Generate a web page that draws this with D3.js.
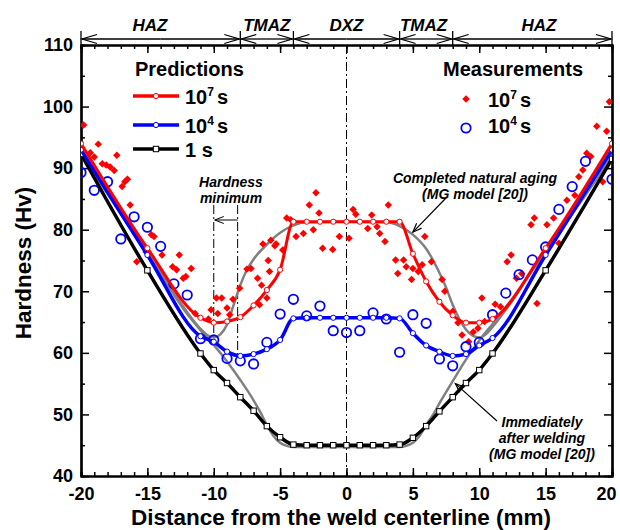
<!DOCTYPE html>
<html>
<head>
<meta charset="utf-8">
<script src="https://cdn.jsdelivr.net/npm/d3@7"></script>
<style>
  body { margin: 0; background: #fff; }
  text { font-family: "Liberation Sans", Arial, Helvetica, sans-serif; font-weight: bold; fill: #000; }
  .tick text { font-size: 18px; }
  .note { font-style: italic; font-size: 14px; }
</style>
</head>
<body>
<svg id="chart" width="620" height="530"></svg>
<script>
// ---- data ----
const zoneEdges = [-20, -8, -4, 4, 8, 20];
const zoneLabels = ['HAZ', 'TMAZ', 'DXZ', 'TMAZ', 'HAZ'];
const zoneLabelX = [-14.8, -6, 0, 5.8, 14.5];

// model predictions (marker positions)
const predX = [-20, -15, -11, -10, -9, -8, -7, -6, -5, -4, -3, -2, -1, 0, 1, 2, 3, 4, 5, 6, 7, 8, 9, 10, 11, 15, 20];
const pred1e7 = [94.0, 77.0, 65.7, 64.9, 65.1, 65.8, 67.7, 70.2, 73.5, 81.3, 81.3, 81.3, 81.3, 81.3, 81.3, 81.3, 81.3, 81.3, 76.1, 71.6, 68.3, 66.1, 64.9, 64.9, 65.5, 77.0, 94.0];
const pred1e4 = [93.0, 75.9, 62.7, 61.8, 60.2, 59.5, 59.8, 60.6, 62.1, 65.6, 65.7, 65.7, 65.7, 65.7, 65.7, 65.7, 65.7, 65.6, 63.2, 61.2, 60.2, 59.5, 59.8, 61.2, 62.4, 75.9, 93.0];
const pred1s = [92.3, 73.4, 59.9, 57.2, 55.1, 52.8, 50.6, 48.1, 46.3, 45.1, 45.0, 45.0, 45.0, 45.0, 45.0, 45.0, 45.0, 45.1, 46.2, 48.1, 50.5, 52.8, 55.1, 57.2, 59.9, 73.4, 91.5];

// MG model, completed natural aging (grey)
const mgAgedX = [-20, -18, -16, -14, -12, -11, -10.5, -10, -9.5, -9, -8.5, -8, -7.5, -7, -6, -5, -4, -3, 0, 3, 4, 5, 6, 7, 7.5, 8, 8.5, 9, 9.5, 10, 10.5, 11, 12, 14, 16, 18, 20];
const mgAgedH = [92.4, 86.0, 79.6, 73.2, 66.6, 63.9, 62.9, 62.5, 63.0, 64.6, 67.8, 71.0, 73.5, 75.2, 77.6, 79.5, 80.7, 81.2, 81.3, 81.2, 80.6, 79.2, 76.9, 73.0, 70.6, 67.8, 65.5, 63.8, 62.8, 62.5, 63.0, 64.2, 67.0, 73.4, 79.7, 86.0, 92.2];

// MG model, immediately after welding (grey)
const mgWeldX = [-20, -18, -16, -14, -12, -11, -10, -9, -8, -7, -6.5, -6, -5.5, -5, -4.5, -4, 0, 4, 4.5, 5, 5.5, 6, 6.5, 7, 8, 9, 10, 11, 12, 14, 16, 18, 20];
const mgWeldH = [92.2, 85.8, 79.3, 72.8, 66.3, 63.7, 61.3, 58.6, 55.6, 52.3, 50.4, 48.3, 46.5, 45.4, 44.9, 44.7, 44.7, 44.7, 44.9, 45.4, 46.5, 48.3, 49.9, 51.8, 55.4, 58.9, 62.0, 64.7, 67.4, 73.4, 79.5, 85.6, 91.9];

// measurements after 10^7 s (red diamonds)
const meas1e7X = [-19.8, -19.3, -19.0, -18.7, -18.4, -18.1, -17.8, -17.5, -17.3, -16.9, -16.7, -16.5, -16.3, -15.8, -15.1, -14.7, -14.5, -13.9, -13.1, -12.8, -12.6, -12.3, -12.1, -11.7, -11.4, -10.4, -10.2, -9.8, -9.7, -9.4, -9.0, -8.8, -8.55, -8.05, -7.5, -7.2, -6.7, -6.55, -6.4, -6.3, -6.0, -5.9, -5.8, -5.7, -5.4, -5.3, -4.8, -4.5, -4.2, -3.8, -3.25, -2.8, -2.5, -2.3, -2.07, -1.8, -1.04, -0.54, 0.19, 0.5, 0.7, 1.6, 1.9, 2.3, 2.5, 2.9, 3.15, 3.7, 3.86, 4.3, 4.5, 4.9, 5.0, 5.4, 5.7, 5.9, 6.4, 7.2, 7.4, 8.0, 8.4, 8.7, 9.2, 9.55, 9.9, 10.2, 10.4, 11.2, 11.6, 12.1, 12.4, 12.8, 13.2, 13.9, 14.15, 14.35, 15.1, 15.6, 16.0, 16.6, 17.2, 17.5, 17.8, 18.1, 18.4, 18.85, 19.3, 19.6, 19.8];
const meas1e7H = [97.0, 92.5, 91.8, 93.9, 90.7, 90.5, 90.2, 89.6, 92.1, 87.0, 87.8, 88.2, 84.0, 74.8, 76.4, 79.2, 78.9, 75.9, 74.0, 73.5, 75.9, 72.1, 72.4, 73.7, 66.4, 65.5, 67.0, 68.9, 66.4, 68.9, 67.3, 66.2, 68.7, 70.5, 73.6, 73.7, 72.1, 67.8, 71.0, 77.7, 68.9, 75.0, 73.2, 78.3, 77.4, 77.7, 76.7, 81.9, 81.6, 78.9, 79.4, 84.0, 80.0, 86.0, 82.7, 77.0, 76.8, 78.9, 78.6, 83.3, 82.5, 80.2, 82.4, 80.5, 79.4, 78.1, 84.0, 75.1, 72.9, 75.1, 74.0, 71.9, 73.7, 73.2, 74.3, 78.9, 74.8, 71.9, 70.0, 66.7, 64.9, 62.9, 61.8, 63.4, 64.0, 68.9, 65.1, 67.9, 67.5, 74.8, 75.9, 72.1, 72.9, 80.8, 81.9, 68.0, 80.8, 81.9, 77.8, 84.8, 85.6, 88.6, 89.7, 92.4, 91.9, 96.8, 87.8, 96.0, 100.8];

// measurements after 10^4 s (blue circles)
const meas1e4X = [-20, -19, -18, -17, -16, -15, -14, -13, -12, -11, -10, -9, -8, -7, -6, -5, -4, -3, -2, -1, 0, 1, 2, 3, 4, 5, 6, 7, 8, 9, 10, 11, 12, 13, 14, 15, 16, 17, 18, 20];
const meas1e4H = [89.3, 86.4, 87.8, 78.5, 82.1, 80.4, 77.3, 71.2, 69.4, 62.3, 62.1, 59.1, 58.7, 58.2, 61.7, 66.3, 68.7, 66.0, 67.6, 63.6, 63.3, 63.6, 66.5, 65.5, 60.1, 66.2, 64.8, 59.0, 57.9, 61.0, 61.7, 66.2, 69.7, 72.7, 75.1, 77.2, 83.3, 87.0, 91.1, 88.2];

const xTicks = [-20, -15, -10, -5, 0, 5, 10, 15, 20];
const yTicks = [40, 50, 60, 70, 80, 90, 100, 110];

// ---- drawing ----
const svg = d3.select('#chart');
const mLeft = 81, mRight = 612, mTop = 45, mBottom = 476;

const x = d3.scaleLinear().domain([-20, 20]).range([mLeft, mRight]);
const y = d3.scaleLinear().domain([40, 110]).range([mBottom, mTop]);

svg.append('defs').append('clipPath').attr('id', 'plot')
  .append('rect').attr('x', mLeft).attr('y', mTop).attr('width', mRight - mLeft).attr('height', mBottom - mTop);

// axes, ticks pointing inward on all four sides
function styleAxis(g) {
  g.select('.domain').attr('stroke-width', 2.2);
  g.selectAll('.tick line').attr('stroke-width', 1.5);
}
const minorX = d3.range(-20, 21, 1);
const minorY = d3.range(45, 110, 10);

svg.append('g').attr('transform', `translate(0,${mBottom})`)
  .call(d3.axisBottom(x).tickValues(minorX).tickSize(-4).tickFormat(''))
  .call(styleAxis);
svg.append('g').attr('transform', `translate(0,${mBottom})`)
  .call(d3.axisBottom(x).tickValues(xTicks).tickSizeInner(-8).tickSizeOuter(0).tickPadding(11).tickFormat(d => String(d)))
  .call(styleAxis)
  .call(g => g.selectAll('.tick').filter(d => d === 20).select('text').attr('dx', -6));
svg.append('g').attr('transform', `translate(0,${mTop})`)
  .call(d3.axisTop(x).tickValues(minorX).tickSize(-4).tickFormat(''))
  .call(styleAxis);
svg.append('g').attr('transform', `translate(0,${mTop})`)
  .call(d3.axisTop(x).tickValues(xTicks).tickSizeInner(-8).tickSizeOuter(0).tickFormat(''))
  .call(styleAxis);

svg.append('g').attr('transform', `translate(${mLeft},0)`)
  .call(d3.axisLeft(y).tickValues(minorY).tickSize(-4).tickFormat(''))
  .call(styleAxis);
svg.append('g').attr('transform', `translate(${mLeft},0)`)
  .call(d3.axisLeft(y).tickValues(yTicks).tickSizeInner(-8).tickSizeOuter(0).tickPadding(8).tickFormat(d => String(d)))
  .call(styleAxis);
svg.append('g').attr('transform', `translate(${mRight},0)`)
  .call(d3.axisRight(y).tickValues(minorY).tickSize(-4).tickFormat(''))
  .call(styleAxis);
svg.append('g').attr('transform', `translate(${mRight},0)`)
  .call(d3.axisRight(y).tickValues(yTicks).tickSizeInner(-8).tickSizeOuter(0).tickFormat(''))
  .call(styleAxis);

svg.selectAll('.tick text').attr('font-size', 18);

// axis titles
svg.append('text').attr('x', 341).attr('y', 525).attr('text-anchor', 'middle')
  .attr('font-size', 22.5).text('Distance from the weld centerline (mm)');
svg.append('text').attr('transform', 'translate(31,263) rotate(-90)').attr('text-anchor', 'middle')
  .attr('font-size', 22.5).text('Hardness (Hv)');

// zone bar above the plot
const zoneY = 39;
function openArrow(g, x1, y1, x2, y2, len, half) {
  // line from (x1,y1) to (x2,y2) with an open head at (x2,y2)
  g.append('line').attr('x1', x1).attr('y1', y1).attr('x2', x2).attr('y2', y2);
  const a = Math.atan2(y2 - y1, x2 - x1);
  const p = (s) => [x2 - len * Math.cos(a) + s * half * Math.sin(a), y2 - len * Math.sin(a) - s * half * Math.cos(a)];
  const [ax, ay] = p(1), [bx, by] = p(-1);
  g.append('path').attr('fill', 'none').attr('d', `M${ax},${ay}L${x2},${y2}L${bx},${by}`);
}
const zones = svg.append('g').attr('stroke', '#000').attr('stroke-width', 1.3);
zoneEdges.forEach(e => {
  zones.append('line').attr('x1', x(e)).attr('x2', x(e)).attr('y1', 31).attr('y2', mTop);
});
for (let i = 0; i < zoneLabels.length; i++) {
  const a = x(zoneEdges[i]) + 1, b = x(zoneEdges[i + 1]) - 1;
  const mid = (a + b) / 2;
  openArrow(zones, mid, zoneY, a, zoneY, 15, 4.5);
  openArrow(zones, mid, zoneY, b, zoneY, 15, 4.5);
}
svg.append('g').selectAll('text').data(zoneLabels).join('text')
  .attr('x', (d, i) => x(zoneLabelX[i])).attr('y', 31)
  .attr('text-anchor', 'middle').attr('font-size', 17).attr('font-style', 'italic')
  .text(d => d);

// centre line
svg.append('line').attr('x1', x(0)).attr('x2', x(0)).attr('y1', mTop).attr('y2', mBottom)
  .attr('stroke', '#000').attr('stroke-width', 1).attr('stroke-dasharray', '9,3,2,3');

// hardness minimum markers
const hm = svg.append('g').attr('stroke', '#000').attr('stroke-width', 1);
hm.append('line').attr('x1', x(-10)).attr('x2', x(-10)).attr('y1', 205).attr('y2', y(62.4)).attr('stroke-dasharray', '9,3,2,3');
hm.append('line').attr('x1', x(-8.2)).attr('x2', x(-8.2)).attr('y1', 205).attr('y2', y(59.4)).attr('stroke-dasharray', '9,3,2,3');
openArrow(hm, x(-8.2), 220, x(-10) + 1, 220, 9, 3.5);
svg.append('text').attr('class', 'note').attr('x', 231).attr('y', 187).attr('text-anchor', 'middle').text('Hardness');
svg.append('text').attr('class', 'note').attr('x', 231).attr('y', 203).attr('text-anchor', 'middle').text('minimum');

// model curves
const plot = svg.append('g').attr('clip-path', 'url(#plot)');
const line = d3.line().x(d => x(d[0])).y(d => y(d[1])).curve(d3.curveMonotoneX);
const zip = (xs, ys) => xs.map((v, i) => [v, ys[i]]);

plot.append('path').datum(zip(mgWeldX, mgWeldH)).attr('d', line)
  .attr('fill', 'none').attr('stroke', '#808080').attr('stroke-width', 2.5);
plot.append('path').datum(zip(mgAgedX, mgAgedH)).attr('d', line)
  .attr('fill', 'none').attr('stroke', '#808080').attr('stroke-width', 2.5);

// measurements
plot.append('g').selectAll('path').data(zip(meas1e7X, meas1e7H)).join('path')
  .attr('d', d3.symbol(d3.symbolSquare, 28))
  .attr('transform', d => `translate(${x(d[0])},${y(d[1])}) rotate(45)`)
  .attr('fill', '#ff0000');
plot.append('g').selectAll('circle').data(zip(meas1e4X, meas1e4H)).join('circle')
  .attr('cx', d => x(d[0])).attr('cy', d => y(d[1])).attr('r', 4.7)
  .attr('fill', 'none').attr('stroke', '#0000ff').attr('stroke-width', 1.8);

// predictions
const preds = [
  { vals: pred1s, color: '#000', width: 3.5, square: true },
  { vals: pred1e4, color: '#0000ff', width: 3.5, square: false },
  { vals: pred1e7, color: '#ff0000', width: 3, square: false }
];
preds.forEach(p => {
  const pts = zip(predX, p.vals);
  plot.append('path').datum(pts).attr('d', line)
    .attr('fill', 'none').attr('stroke', p.color).attr('stroke-width', p.width);
  const m = plot.append('g');
  if (p.square) {
    m.selectAll('rect').data(pts).join('rect')
      .attr('x', d => x(d[0]) - 2.7).attr('y', d => y(d[1]) - 2.7).attr('width', 5.4).attr('height', 5.4)
      .attr('fill', '#fff').attr('stroke', '#000').attr('stroke-width', 1);
  } else {
    m.selectAll('circle').data(pts).join('circle')
      .attr('cx', d => x(d[0])).attr('cy', d => y(d[1])).attr('r', 2.6)
      .attr('fill', '#fff').attr('stroke', p.color).attr('stroke-width', 1);
  }
});

// annotations with leaders
const ann = svg.append('g').attr('stroke', '#000').attr('stroke-width', 1.2);
svg.append('text').attr('class', 'note').attr('x', 475).attr('y', 183).attr('text-anchor', 'middle').text('Completed natural aging');
svg.append('text').attr('class', 'note').attr('x', 475).attr('y', 199).attr('text-anchor', 'middle').text('(MG model [20])');
openArrow(ann, 446, 198, x(5), y(79.6), 9, 3.5);

svg.append('text').attr('class', 'note').attr('x', 542).attr('y', 427).attr('text-anchor', 'middle').text('Immediately');
svg.append('text').attr('class', 'note').attr('x', 542).attr('y', 443).attr('text-anchor', 'middle').text('after welding');
svg.append('text').attr('class', 'note').attr('x', 542).attr('y', 459).attr('text-anchor', 'middle').text('(MG model [20])');
openArrow(ann, 497, 421, x(8.2), y(55), 9, 3.5);

// legends
function labelPow(g, tx, ty, exp) {
  const t = g.append('text').attr('x', tx).attr('y', ty).attr('font-size', 20);
  if (exp === null) { t.text('1 s'); return; }
  t.append('tspan').text('10');
  t.append('tspan').attr('font-size', 12).attr('dy', -8).text(exp);
  t.append('tspan').attr('dy', 8).attr('dx', 3).text('s');
}
const lg = svg.append('g');
lg.append('text').attr('x', 135).attr('y', 76).attr('font-size', 20).text('Predictions');
const legendRows = [
  { ly: 96, color: '#ff0000', exp: '7', square: false },
  { ly: 125, color: '#0000ff', exp: '4', square: false },
  { ly: 149, color: '#000', exp: null, square: true }
];
legendRows.forEach(r => {
  lg.append('line').attr('x1', 133).attr('x2', 179).attr('y1', r.ly).attr('y2', r.ly)
    .attr('stroke', r.color).attr('stroke-width', 3.5);
  if (r.square) {
    lg.append('rect').attr('x', 153.3).attr('y', r.ly - 2.7).attr('width', 5.4).attr('height', 5.4)
      .attr('fill', '#fff').attr('stroke', '#000');
  } else {
    lg.append('circle').attr('cx', 156).attr('cy', r.ly).attr('r', 2.6)
      .attr('fill', '#fff').attr('stroke', r.color);
  }
  labelPow(lg, 185, r.ly + 7.5, r.exp);
});

lg.append('text').attr('x', 443).attr('y', 76).attr('font-size', 20).text('Measurements');
lg.append('path').attr('d', d3.symbol(d3.symbolSquare, 28)).attr('transform', 'translate(466,99) rotate(45)').attr('fill', '#ff0000');
labelPow(lg, 488, 106.5, '7');
lg.append('circle').attr('cx', 466).attr('cy', 128).attr('r', 4.7).attr('fill', 'none').attr('stroke', '#0000ff').attr('stroke-width', 1.8);
labelPow(lg, 488, 133, '4');
</script>
</body>
</html>
